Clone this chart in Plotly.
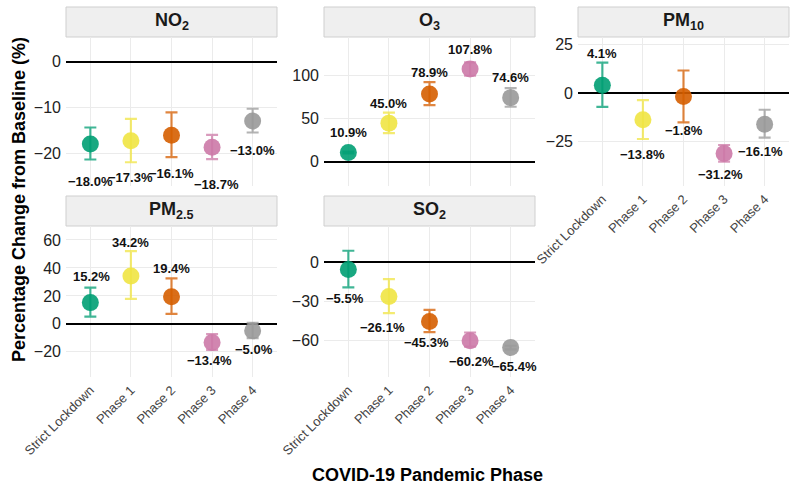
import plotly.graph_objects as go

phases = ["Strict Lockdown", "Phase 1", "Phase 2", "Phase 3", "Phase 4"]
colors = ["#009E73", "#F0E442", "#D55E00", "#CC79A7", "#999999"]

pollutants = ["NO2", "O3", "PM10", "PM2.5", "SO2"]
titles = ["NO<sub>2</sub>", "O<sub>3</sub>", "PM<sub>10</sub>", "PM<sub>2.5</sub>", "SO<sub>2</sub>"]

no2_mean = [-18.0, -17.3, -16.1, -18.7, -13.0]
no2_hi = [-14.4, -12.5, -11.1, -16.0, -10.3]
no2_lo = [-21.4, -22.0, -20.9, -21.3, -15.5]

o3_mean = [10.9, 45.0, 78.9, 107.8, 74.6]
o3_hi = [12.0, 57.3, 92.7, 115.5, 85.7]
o3_lo = [9.8, 33.4, 65.9, 100.0, 64.0]

pm10_mean = [4.1, -13.8, -1.8, -31.2, -16.1]
pm10_hi = [15.8, -3.6, 11.7, -26.8, -8.6]
pm10_lo = [-7.1, -23.7, -15.1, -35.4, -23.0]

pm25_mean = [15.2, 34.2, 19.4, -13.4, -5.0]
pm25_hi = [25.9, 52.0, 32.6, -7.4, 0.7]
pm25_lo = [5.2, 17.9, 7.1, -18.6, -10.2]

so2_mean = [-5.5, -26.1, -45.3, -60.2, -65.4]
so2_hi = [9.0, -12.8, -36.4, -53.8, -64.0]
so2_lo = [-19.2, -38.9, -53.5, -64.6, -66.8]

means = [no2_mean, o3_mean, pm10_mean, pm25_mean, so2_mean]
his = [no2_hi, o3_hi, pm10_hi, pm25_hi, so2_hi]
los = [no2_lo, o3_lo, pm10_lo, pm25_lo, so2_lo]

y_ticks = [[-20, -10, 0], [0, 50, 100], [-25, 0, 25], [-20, 0, 20, 40, 60], [-60, -30, 0]]
y_ranges = [[-27.2, 5.4], [-28, 145], [-48, 29], [-38, 70], [-88, 28]]

# label pixel offsets (down positive) and horizontal shifts
label_dy = [[38, 37, 38, 37, 29], [-20, -20, -21, -20, -20], [-32, 35, 34, 21, 27],
            [-26, -34, -28, 18, 19], [29, 31, 21, 21, 19]]
label_dx = [[0, 0, 0, 4, 0], [0, 0, 0, 0, 0], [0, 0, 0, -4, -4],
            [1, 0, 0, -3, 1], [-3, -6, -3, 1, 4]]

W, H = 796, 488
panel_px = [(66, 277, 37, 186), (324, 535, 37, 186), (578, 789, 37, 186),
            (66, 277, 226, 377), (324, 535, 226, 377)]

FONT = "Liberation Sans, Arial, Helvetica, sans-serif"

def rgba(hexc, a):
    h = hexc.lstrip("#")
    r, g, b = int(h[0:2], 16), int(h[2:4], 16), int(h[4:6], 16)
    return f"rgba({r},{g},{b},{a})"

fig = go.Figure()
annotations = []
shapes = []

for i, pol in enumerate(pollutants):
    xa = "x" if i == 0 else f"x{i+1}"
    ya = "y" if i == 0 else f"y{i+1}"
    for j, ph in enumerate(phases):
        m = means[i][j]
        fig.add_trace(go.Scatter(
            x=[ph], y=[m], xaxis=xa, yaxis=ya, mode="markers",
            marker=dict(size=17, color=rgba(colors[j], 0.9), line=dict(width=0)),
            error_y=dict(type="data", symmetric=False,
                         array=[his[i][j] - m], arrayminus=[m - los[i][j]],
                         color=rgba(colors[j], 0.75), thickness=2.2, width=6),
            showlegend=False, hoverinfo="skip"))
        txt = f"{m:.1f}%".replace("-", "\u2212")
        annotations.append(dict(
            x=ph, y=m, xref=xa, yref=ya, text=f"<b>{txt}</b>", showarrow=False,
            yshift=-label_dy[i][j], xshift=label_dx[i][j],
            font=dict(family=FONT, size=13, color="#111111")))

    x0, x1, y0, y1 = panel_px[i]
    xd = [x0 / W, x1 / W]
    yd = [1 - y1 / H, 1 - y0 / H]
    show_x = pol in ("PM10", "PM2.5", "SO2")
    xkey = "xaxis" if i == 0 else f"xaxis{i+1}"
    ykey = "yaxis" if i == 0 else f"yaxis{i+1}"
    fig.update_layout(**{
        xkey: dict(domain=xd, anchor=ya, type="category", categoryorder="array",
                   categoryarray=phases, range=[-0.6, 4.6], showgrid=True,
                   gridcolor="#EBEBEB", gridwidth=1, zeroline=False, showline=False,
                   ticks="", showticklabels=show_x, tickangle=-45, automargin=False,
                   ticklabelstandoff=2,
                   tickfont=dict(family=FONT, size=13, color="#444444")),
        ykey: dict(domain=yd, anchor=xa, range=y_ranges[i], tickvals=y_ticks[i],
                   showgrid=True, gridcolor="#EBEBEB", gridwidth=1,
                   zeroline=True, zerolinecolor="black", zerolinewidth=2,
                   showline=False, ticks="", ticklabelstandoff=4, automargin=False,
                   tickfont=dict(family=FONT, size=16, color="#222222")),
    })
    # strip
    sy0 = y0 - 30
    shapes.append(dict(type="rect", xref="paper", yref="paper",
                       x0=x0 / W, x1=x1 / W, y0=1 - y0 / H, y1=1 - sy0 / H,
                       fillcolor="#EFEFEF", line=dict(color="#CFCFCF", width=1),
                       layer="below"))
    annotations.append(dict(x=(x0 + x1) / 2 / W, y=1 - (y0 - 15) / H, xref="paper",
                            yref="paper", text=f"<b>{titles[i]}</b>", showarrow=False,
                            xanchor="center", yanchor="middle",
                            font=dict(family=FONT, size=18, color="#1a1a1a")))

annotations.append(dict(x=19 / W, y=1 - 200 / H, xref="paper", yref="paper",
                        text="<b>Percentage Change from Baseline (%)</b>", textangle=-90,
                        showarrow=False, xanchor="center", yanchor="middle",
                        font=dict(family=FONT, size=18, color="black")))
annotations.append(dict(x=427 / W, y=1 - 475 / H, xref="paper", yref="paper",
                        text="<b>COVID-19 Pandemic Phase</b>", showarrow=False,
                        xanchor="center", yanchor="middle",
                        font=dict(family=FONT, size=18, color="black")))

fig.update_layout(width=W, height=H, margin=dict(l=0, r=0, t=0, b=0, autoexpand=False),
                  paper_bgcolor="white", plot_bgcolor="white",
                  annotations=annotations, shapes=shapes, showlegend=False)

fig.write_html("out.html")
